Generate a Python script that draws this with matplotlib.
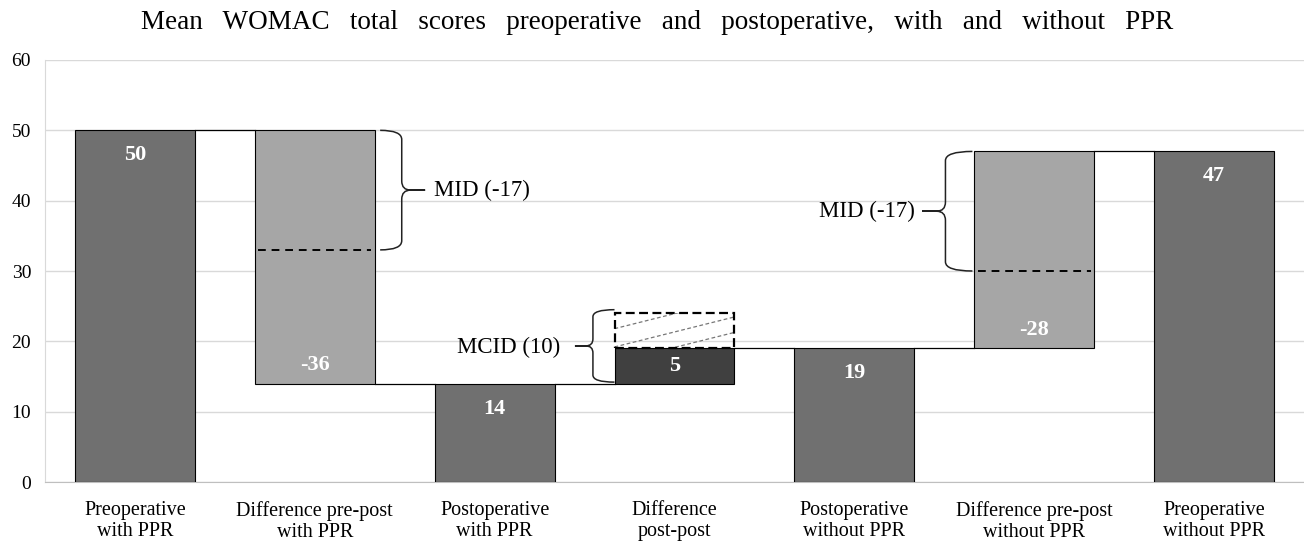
import matplotlib

matplotlib.use("Agg")
import matplotlib.pyplot as plt
from matplotlib.patches import PathPatch, Rectangle
from matplotlib.path import Path

plt.rcParams["font.family"] = ["Liberation Serif", "DejaVu Serif"]

categories = [
    "Preoperative\nwith PPR",
    "Difference pre-post\nwith PPR",
    "Postoperative\nwith PPR",
    "Difference\npost-post",
    "Postoperative\nwithout PPR",
    "Difference pre-post\nwithout PPR",
    "Preoperative\nwithout PPR",
]
bar_bottoms = [0, 14, 0, 14, 0, 19, 0]
bar_tops = [50, 50, 14, 19, 19, 47, 47]
value_labels = ["50", "-36", "14", "5", "19", "-28", "47"]
bar_kind = ["total", "diff", "total", "postdiff", "total", "diff", "total"]
mid_value = 17
mcid_value = 10

colors = {"total": "#707070", "diff": "#a6a6a6", "postdiff": "#404040"}
width = 0.667
half = width / 2

fig = plt.figure(figsize=(13.04, 5.42), dpi=100)
ax = fig.add_axes([0.0345, 0.1107, 0.9655, 0.7786])

x = list(range(len(categories)))
heights = [t - b for t, b in zip(bar_tops, bar_bottoms)]
ax.bar(x, heights, bottom=bar_bottoms, width=width,
       color=[colors[k] for k in bar_kind], edgecolor="black",
       linewidth=0.8, zorder=3)

# connectors: the level shared by two neighbouring bars
for i in range(len(x) - 1):
    nxt = {bar_bottoms[i + 1], bar_tops[i + 1]}
    level = bar_tops[i] if bar_tops[i] in nxt else bar_bottoms[i]
    ax.plot([x[i] + half, x[i + 1] - half], [level, level],
            color="black", lw=0.9, zorder=2)

# value labels
for i, lab in enumerate(value_labels):
    kw = dict(ha="center", va="center", color="white", fontsize=16,
              fontweight="bold", zorder=5)
    if bar_kind[i] == "total":
        ax.annotate(lab, (x[i], bar_tops[i]), xytext=(0, -18),
                    textcoords="offset points", **kw)
    elif bar_kind[i] == "diff":
        ax.annotate(lab, (x[i], bar_bottoms[i]), xytext=(0, 13),
                    textcoords="offset points", **kw)
    else:
        ax.text(x[i], (bar_tops[i] + bar_bottoms[i]) / 2, lab, **kw)


def brace(x_arm, x_spine, x_tip, y0, y1, r, dx):
    ym = (y0 + y1) / 2
    s = 1 if x_tip > x_spine else -1
    verts = [(x_arm, y1), (x_spine, y1), (x_spine, y1 - r),
             (x_spine, ym + r), (x_spine, ym), (x_spine + s * dx, ym),
             (x_tip, ym), (x_spine + s * dx, ym),
             (x_spine, ym), (x_spine, ym - r),
             (x_spine, y0 + r), (x_spine, y0), (x_arm, y0)]
    codes = [Path.MOVETO, Path.CURVE3, Path.CURVE3,
             Path.LINETO, Path.CURVE3, Path.CURVE3,
             Path.LINETO, Path.LINETO,
             Path.CURVE3, Path.CURVE3,
             Path.LINETO, Path.CURVE3, Path.CURVE3]
    ax.add_patch(PathPatch(Path(verts, codes), fill=False,
                           edgecolor="#222222", lw=1.1, zorder=4))


# MID on difference with PPR
i = 1
mid_level = bar_tops[i] - mid_value
ax.plot([x[i] - half + 0.02, x[i] + half - 0.02], [mid_level, mid_level],
        color="black", ls=(0, (4, 3)), lw=1.4, zorder=4)
brace(x[i] + half + 0.03, x[i] + half + 0.15, x[i] + half + 0.28,
      mid_level, bar_tops[i], 1.3, 0.05)
ax.text(x[i] + half + 0.33, (mid_level + bar_tops[i]) / 2, "MID (-17)",
        ha="left", va="center", fontsize=16.5, zorder=5)

# MID on difference without PPR
i = 5
mid_level = bar_tops[i] - mid_value
ax.plot([x[i] - half + 0.02, x[i] + half - 0.02], [mid_level, mid_level],
        color="black", ls=(0, (4, 3)), lw=1.4, zorder=4)
brace(x[i] - half - 0.01, x[i] - half - 0.16, x[i] - half - 0.29,
      mid_level, bar_tops[i], 1.3, 0.05)
ax.text(x[i] - half - 0.33, (mid_level + bar_tops[i]) / 2, "MID (-17)",
        ha="right", va="center", fontsize=16.5, zorder=5)

# MCID box on difference post-post
i = 3
box_bottom = bar_tops[i]
box_top = bar_bottoms[i] + mcid_value
box = Rectangle((x[i] - half, box_bottom), width, box_top - box_bottom,
                fill=False, edgecolor="black", ls=(0, (4, 2)), lw=1.6,
                zorder=4)
ax.add_patch(box)
slope = 6.4
for off in [-2.0, 0.2, 2.8]:
    xs = [x[i] - half, x[i] + half]
    ys = [box_bottom + off, box_bottom + off + slope * width]
    ln, = ax.plot(xs, ys, color="#777777", ls=(0, (3, 2)), lw=0.9, zorder=3)
    ln.set_clip_path(Rectangle((x[i] - half, box_bottom), width,
                               box_top - box_bottom, transform=ax.transData))
brace(x[i] - half, x[i] - half - 0.12, x[i] - half - 0.22,
      bar_bottoms[i] + 0.2, box_top + 0.5, 1.0, 0.04)
ax.text(x[i] - half - 0.3, (bar_bottoms[i] + box_top) / 2 + 0.2, "MCID (10)",
        ha="right", va="center", fontsize=16.5, zorder=5)

ax.set_xlim(-0.5, len(categories) - 0.5)
ax.set_ylim(0, 60)
ax.set_yticks(range(0, 61, 10))
ax.set_xticks(x)
ax.set_xticklabels(categories, fontsize=14.5, linespacing=1.1)
ax.tick_params(axis="y", length=0, labelsize=14, pad=10)
ax.tick_params(axis="x", length=0, pad=14)
ax.grid(axis="y", color="#d9d9d9", lw=1.0, zorder=0)
for side in ["top", "right"]:
    ax.spines[side].set_visible(False)
ax.spines["left"].set_color("#d9d9d9")
ax.spines["bottom"].set_color("#bfbfbf")

title = "   ".join("Mean WOMAC total scores preoperative and postoperative, "
                   "with and without PPR".split())
fig.text(0.504, 0.958, title, ha="center", va="center", fontsize=19.5)

fig.savefig("out.png", dpi=100)
